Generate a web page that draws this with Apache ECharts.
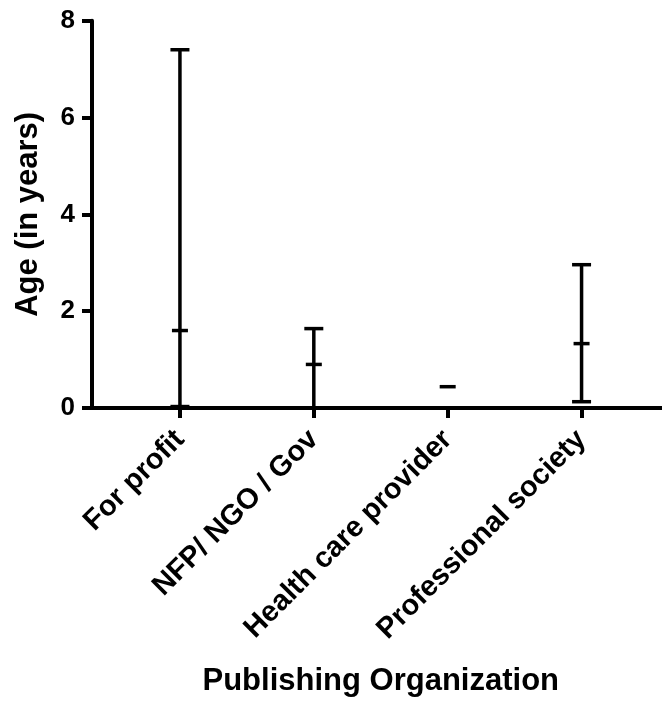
<!DOCTYPE html>
<html>
<head>
<meta charset="utf-8">
<script src="https://cdn.jsdelivr.net/npm/echarts@6/dist/echarts.min.js"></script>
<style>
  html, body { margin: 0; padding: 0; background: #fff; }
  #chart { width: 662px; height: 702px; }
</style>
</head>
<body>
<div id="chart"></div>
<script>
// 分类和数值 (min / median / max)
const categories = ['For profit', 'NFP/ NGO / Gov', 'Health care provider', 'Professional society']
const minValues = [0.03, 0.0, 0.44, 0.13]
const medianValues = [1.6, 0.9, 0.44, 1.33]
const maxValues = [7.4, 1.64, 0.44, 2.96]
const yTicks = [0, 2, 4, 6, 8]

const font = '"Liberation Sans", Arial, Helvetica, sans-serif'

const chart = echarts.init(document.getElementById('chart'))

const barData = categories.map((c, i) => [i, minValues[i], medianValues[i], maxValues[i]])

const option = {
    backgroundColor: '#fff',
    animation: false,
    grid: [
        { left: 92, right: 0, top: 20.7, bottom: 294 },
        { left: 113, right: 13.5, top: 20.7, bottom: 294 }
    ],
    xAxis: [
        {
            gridIndex: 0,
            type: 'value',
            min: 0,
            max: 1,
            axisLine: { show: true, lineStyle: { color: '#000', width: 4 } },
            axisTick: { show: false },
            axisLabel: { show: false },
            splitLine: { show: false }
        },
        {
            gridIndex: 1,
            type: 'category',
            data: categories,
            axisLine: { show: true, lineStyle: { color: '#000', width: 4 } },
            axisTick: { show: true, alignWithLabel: true, length: 10, lineStyle: { color: '#000', width: 4 } },
            axisLabel: {
                rotate: 45,
                margin: 27,
                interval: 0,
                color: '#000',
                fontFamily: font,
                fontWeight: 'bold',
                fontSize: 29
            },
            name: 'Publishing Organization',
            nameLocation: 'middle',
            nameGap: 258,
            nameTextStyle: { color: '#000', fontFamily: font, fontWeight: 'bold', fontSize: 31 }
        }
    ],
    yAxis: [
        {
            gridIndex: 0,
            type: 'value',
            min: yTicks[0],
            max: yTicks[yTicks.length - 1],
            interval: 2,
            axisLine: { show: true, lineStyle: { color: '#000', width: 4 } },
            axisTick: { show: true, length: 10, lineStyle: { color: '#000', width: 4 } },
            axisLabel: { margin: 17, color: '#000', fontFamily: font, fontWeight: 'bold', fontSize: 26 },
            splitLine: { show: false },
            name: 'Age (in years)',
            nameLocation: 'middle',
            nameGap: 48,
            nameTextStyle: { color: '#000', fontFamily: font, fontWeight: 'bold', fontSize: 31 }
        },
        {
            gridIndex: 1,
            type: 'value',
            min: yTicks[0],
            max: yTicks[yTicks.length - 1],
            show: false
        }
    ],
    series: [
        {
            type: 'custom',
            xAxisIndex: 1,
            yAxisIndex: 1,
            data: barData,
            renderItem: function (params, api) {
                const x = api.value(0)
                const lo = api.coord([x, api.value(1)])
                const mid = api.coord([x, api.value(2)])
                const hi = api.coord([x, api.value(3)])
                const style = { stroke: '#000', lineWidth: 3.5 }
                const capW = 19
                const midW = 16
                const children = []
                // 竖线
                if (hi[1] < lo[1]) {
                    children.push({ type: 'line', shape: { x1: lo[0], y1: lo[1], x2: hi[0], y2: hi[1] }, style: style })
                }
                // 上下端的横线
                if (api.value(3) > api.value(2)) {
                    children.push({ type: 'line', shape: { x1: hi[0] - capW / 2, y1: hi[1], x2: hi[0] + capW / 2, y2: hi[1] }, style: style })
                }
                if (api.value(1) < api.value(2)) {
                    children.push({ type: 'line', shape: { x1: lo[0] - capW / 2, y1: lo[1], x2: lo[0] + capW / 2, y2: lo[1] }, style: style })
                }
                // 中位数
                children.push({ type: 'line', shape: { x1: mid[0] - midW / 2, y1: mid[1], x2: mid[0] + midW / 2, y2: mid[1] }, style: style })
                return { type: 'group', children: children }
            }
        }
    ]
}

chart.setOption(option)

window.addEventListener('resize', () => {
    chart.resize()
})
</script>
</body>
</html>
